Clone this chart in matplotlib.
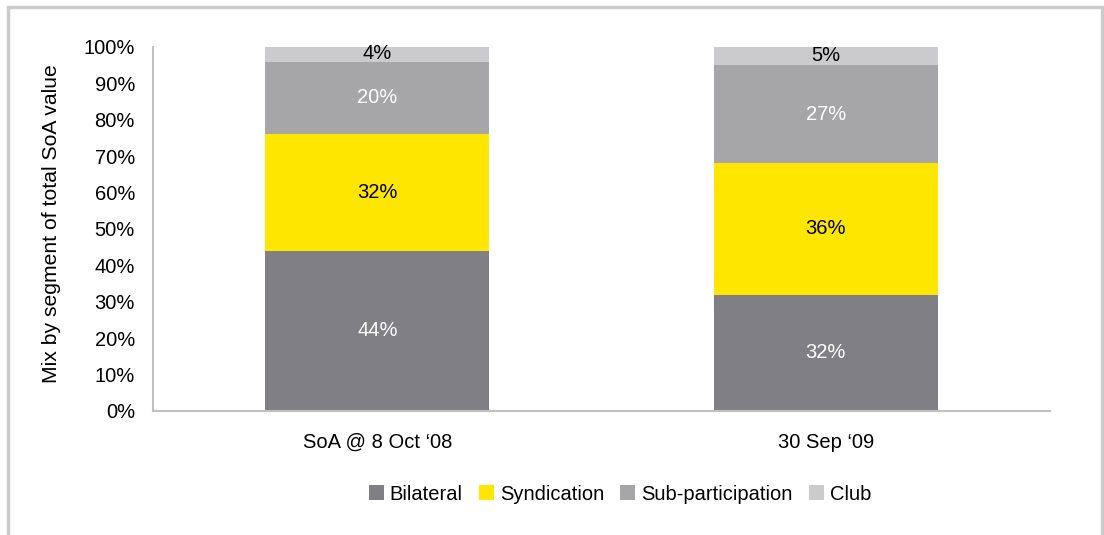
import matplotlib
matplotlib.use('Agg')
import matplotlib.pyplot as plt
import numpy as np
from matplotlib.patches import Rectangle

plt.rcParams['font.family'] = ['Liberation Sans', 'DejaVu Sans']

# data
categories = ['SoA @ 8 Oct \u201808', '30 Sep \u201809']
segments = ['Bilateral', 'Syndication', 'Sub-participation', 'Club']
bilateral = [44, 32]
syndication = [32, 36]
sub_part = [20, 27]
club = [4, 5]

colors = ['#807f83', '#ffe600', '#a6a6a8', '#cbcbcd']
label_colors = ['white', 'black', 'white', 'black']
fs = 14.5

fig = plt.figure(figsize=(11.04, 5.35), dpi=100)
ax = fig.add_axes([153/1104, 1-411/535, 897/1104, 364/535])

x = np.arange(len(categories))
series = [bilateral, syndication, sub_part, club]
bottom = np.zeros(len(categories))
for vals, col, lc, name in zip(series, colors, label_colors, segments):
    vals = np.array(vals, dtype=float)
    ax.bar(x, vals, 0.5, bottom=bottom, color=col, label=name)
    for xi, v, b in zip(x, vals, bottom):
        yy = b + v/2
        if name == 'Club':
            yy = b + v/2 + 0.3
        ax.text(xi, yy, '%d%%' % v, ha='center', va='center', color=lc, fontsize=fs)
    bottom += vals

ax.set_xlim(-0.5, 1.5)
ax.set_ylim(0, 100)
ax.set_yticks(np.arange(0, 101, 10))
ax.set_yticklabels(['%d%%' % t for t in range(0, 101, 10)], fontsize=fs)
ax.set_xticks(x)
ax.set_xticklabels(categories, fontsize=fs)
ax.tick_params(length=0)
ax.tick_params(axis='y', pad=13)
ax.tick_params(axis='x', pad=16)
for s in ['top', 'right']:
    ax.spines[s].set_visible(False)
for s in ['left', 'bottom']:
    ax.spines[s].set_color('#c0c0c0')
    ax.spines[s].set_linewidth(1.5)
ax.set_ylabel('Mix by segment of total SoA value', fontsize=15.2)
ax.yaxis.set_label_coords(-0.103, 0.515)

leg = fig.legend(loc='center', bbox_to_anchor=(620/1104, 1-494/535), ncol=4, frameon=False,
                 fontsize=fs, handlelength=0.75, handleheight=0.75, handletextpad=0.3,
                 columnspacing=0.8)

# outer frame
fig.patches.append(Rectangle((8/1104, -0.05), 1094/1104, 1.05-7/535, transform=fig.transFigure,
                             fill=False, edgecolor='#cccccc', linewidth=2.5))

fig.savefig('out.png', dpi=100)
